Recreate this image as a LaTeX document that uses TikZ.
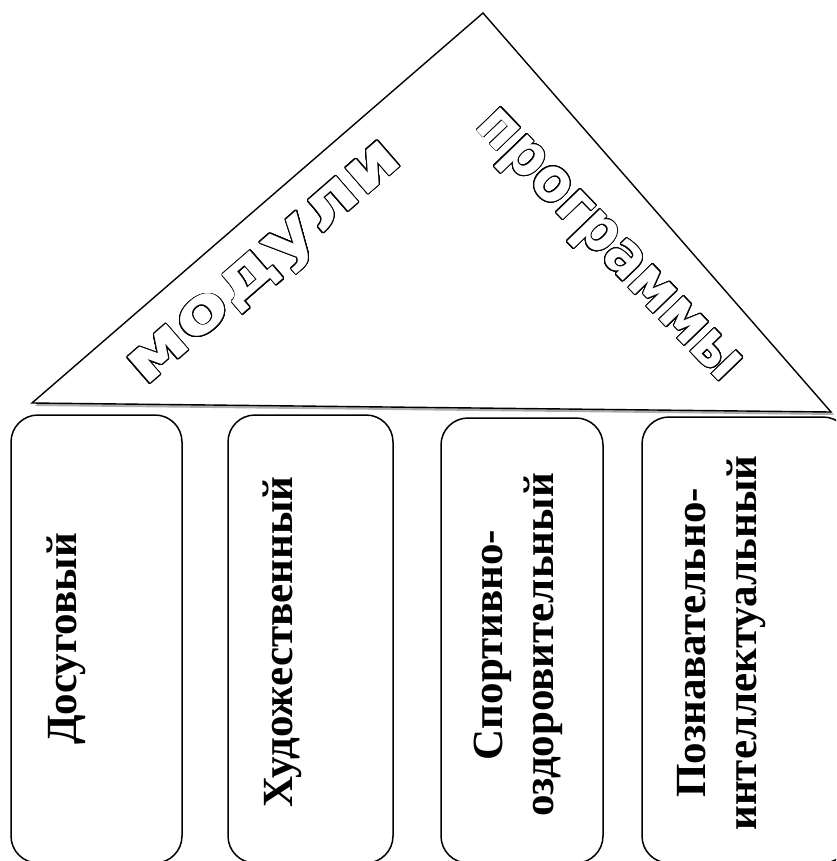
\documentclass[tikz,border=0pt]{standalone}
\usepackage{fontspec}
\setmainfont{Liberation Serif}[BoldFont={Liberation Serif Bold}]
\newfontfamily\labfont{Liberation Serif Bold}
\newfontfamily\wordfont{DejaVu Sans Bold}
\usepackage{graphicx}
\usepackage{contour}
\contourlength{0.9pt}
\contournumber{32}
\begin{document}
\begin{tikzpicture}[x=1pt,y=1pt,
  box/.style={draw=black, line width=1.5pt, rounded corners=27pt, inner sep=0pt},
  lab/.style={rotate=90, align=center, inner sep=0pt,
    font=\labfont\fontsize{43}{51}\selectfont},
  word/.style={anchor=base, inner sep=0pt}]
\useasboundingbox (0,0) rectangle (836,-861);
\clip (0,0) rectangle (836,-861);
% roof shadow and roof
\fill[gray!65] (35,-406) -- (486,-16) -- (834,-415) -- cycle;
\draw[line width=1.4pt, fill=white] (32,-403) -- (483,-13) -- (831,-412) -- cycle;
% roof words
\node[word, rotate=41] (mod) at (275,-275)
  {\contour{black}{\color{white}\resizebox{344pt}{35pt}{\wordfont модули}}};
\node[word, rotate=-46] (prog) at (598,-255.5)
  {\contour{black}{\color{white}\resizebox{357pt}{34pt}{\wordfont программы}}};
% boxes
\node[box, minimum width=171pt, minimum height=448pt] (b1) at (96.5,-639) {};
\node[box, minimum width=165pt, minimum height=448pt] (b2) at (310.5,-639) {};
\node[box, minimum width=162pt, minimum height=445pt] (b3) at (522,-640.5) {};
\node[box, minimum width=208pt, minimum height=446pt] (b4) at (746,-640) {};
% labels
\node[lab] (t1) at (66,-639) {Досуговый};
\node[lab] (t2) at (282,-642) {Художественный};
\node[lab] (t3) at (518.5,-645) {Спортивно-\\оздоровительный};
\node[lab] (t4) at (722,-643) {Познавательно-\\интеллектуальный};
\end{tikzpicture}
\end{document}
